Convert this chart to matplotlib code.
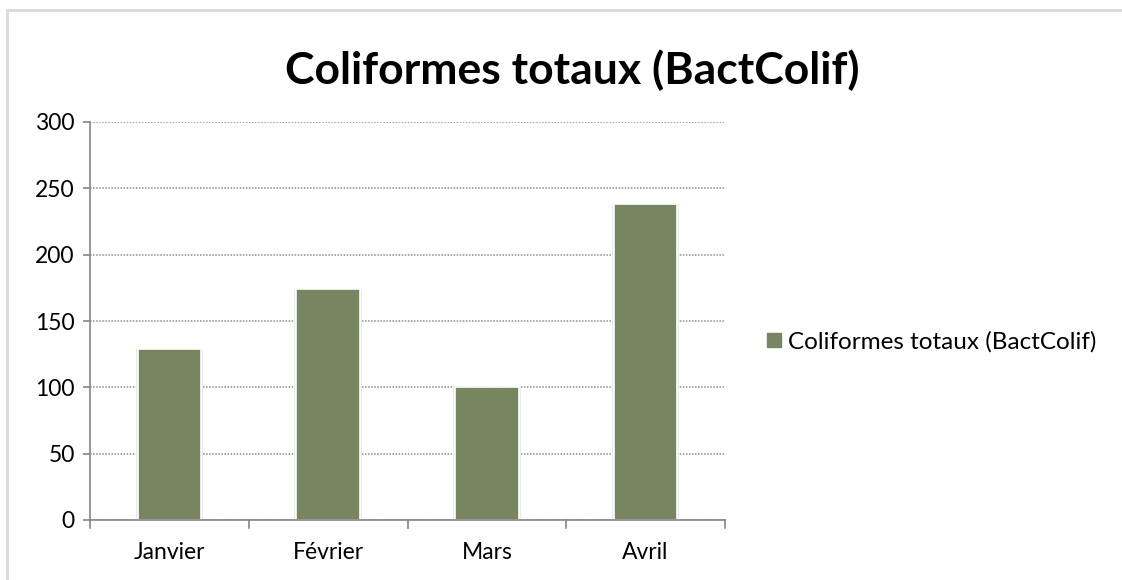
import matplotlib
matplotlib.use("Agg")
import matplotlib.pyplot as plt
from matplotlib.patches import Rectangle
from matplotlib.lines import Line2D

categories = ["Janvier", "Février", "Mars", "Avril"]
values = [129, 174, 100, 238]
series_name = "Coliformes totaux (BactColif)"
title = "Coliformes totaux (BactColif)"
yticks = [0, 50, 100, 150, 200, 250, 300]

plt.rcParams['font.family'] = ['Lato', 'DejaVu Sans']

fig = plt.figure(figsize=(11.22, 5.8), dpi=100)
ax = fig.add_axes([90/1122, 1-520/580, 635/1122, 398/580])

bar_color = "#778560"
x = list(range(len(categories)))
# soft shadow
ax.bar(x, values, width=0.425, color="#ebebeb", zorder=2)
ax.bar(x, values, width=0.4, color=bar_color, edgecolor="white", linewidth=1.2, zorder=3)

ax.set_xlim(-0.5, len(categories) - 0.5)
ax.set_ylim(0, 300)
ax.set_yticks(yticks)
ax.set_yticklabels([str(v) for v in yticks], fontsize=16.5)
ax.set_xticks(x)
ax.set_xticklabels(categories, fontsize=16.5)
ax.tick_params(axis='x', length=0, pad=16)
ax.tick_params(axis='y', length=5, color="#868686", width=1.2, pad=6)

# category boundary ticks on x-axis
for b in [i - 0.5 for i in range(len(categories) + 1)]:
    ax.plot([b, b], [0, -0.02], transform=ax.get_xaxis_transform(), color="#868686",
            lw=1.2, clip_on=False, zorder=4)

ax.grid(axis='y', linestyle=(0, (1, 1.0)), color="#8c8c8c", linewidth=1.1, zorder=1)
for s in ['top', 'right']:
    ax.spines[s].set_visible(False)
for s in ['left', 'bottom']:
    ax.spines[s].set_color("#868686")
    ax.spines[s].set_linewidth(1.2)
    ax.spines[s].set_zorder(5)

fig.text(572/1122, 1-70/580, title, fontsize=32, fontweight='bold', ha='center', va='center')

handle = Line2D([], [], marker='s', linestyle='none', markersize=10, color=bar_color)
fig.legend([handle], [series_name], loc='center left', bbox_to_anchor=(767/1122, 1-342/580),
           frameon=False, fontsize=17.5, handlelength=0.55, handletextpad=0.3,
           borderpad=0, borderaxespad=0)

# chart area border
fig.patches.append(Rectangle((7/1122, -0.1), 1.2, 1 - 10/580 + 0.1, transform=fig.transFigure,
                             fill=False, edgecolor="#d9d9d9", linewidth=2))

fig.savefig("out.png", dpi=100)
